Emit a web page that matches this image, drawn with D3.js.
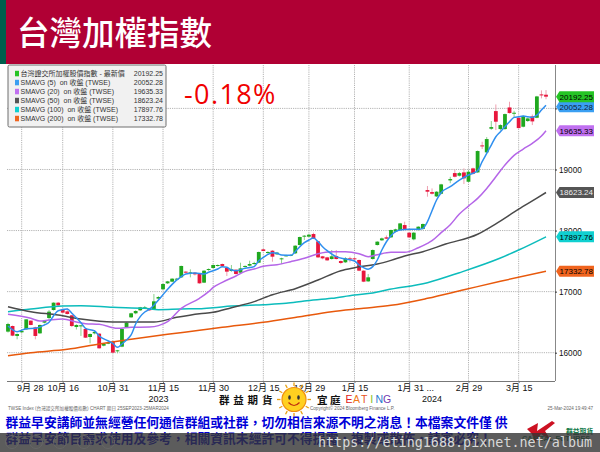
<!DOCTYPE html>
<html>
<head>
<meta charset="utf-8">
<script src="https://cdn.jsdelivr.net/npm/d3@7"></script>
<style>
  html, body { margin: 0; padding: 0; background: #fff; }
  svg { display: block; }
  text { font-family: "Liberation Sans", "Noto Sans CJK TC", sans-serif; }
</style>
</head>
<body>
<div id="chart"></div>
<script>
// open, high, low, close per trading day, null = lunar new year gap
const ohlc = [
  [16345,16490,16330,16470],[16437,16445,16270,16279],[16274,16315,16219,16306],[16334,16365,16325,16355],
  [16383,16550,16375,16546],[16525,16530,16450,16454],[16415,16425,16219,16274],[16317,16460,16310,16454],
  [16492,16535,16480,16525],[16568,16700,16540,16672],[16699,16825,16690,16819],[16819,16830,16760,16776],
  [16710,16720,16645,16656],[16677,16726,16625,16634],[16612,16620,16420,16437],[16421,16465,16380,16454],
  [16432,16455,16274,16448],[16388,16395,16240,16246],[16257,16315,16153,16306],[16317,16372,16300,16339],
  [16312,16320,16065,16072],[16115,16150,16105,16143],[16153,16175,16140,16164],[16181,16190,15995,16001],
  [16028,16045,15990,16039],[16099,16395,16090,16388],[16415,16500,16405,16492],[16579,16655,16570,16645],
  [16645,16695,16630,16683],[16694,16750,16685,16743],[16726,16765,16715,16743],[16726,16735,16685,16694],
  [16710,16961,16700,16841],[16885,16925,16875,16912],[17038,17130,17030,17125],[17136,17175,17125,17168],
  [17163,17220,17155,17212],[17201,17225,17190,17212],[17234,17425,17225,17420],[17327,17335,17300,17310],
  [17310,17365,17234,17316],[17310,17320,17265,17283],[17289,17295,17130,17136],[17147,17350,17140,17343],
  [17354,17380,17340,17370],[17387,17445,17375,17436],[17420,17445,17410,17436],[17452,17460,17400,17420],
  [17387,17395,17256,17327],[17338,17436,17325,17365],[17359,17365,17280,17289],[17310,17474,17300,17381],
  [17409,17430,17400,17420],[17425,17507,17415,17452],[17452,17490,17440,17469],[17474,17655,17465,17649],
  [17692,17700,17660,17665],[17632,17660,17620,17649],[17670,17680,17490,17572],[17611,17650,17600,17638],
  [17529,17555,17452,17545],[17583,17605,17575,17594],[17589,17610,17580,17600],[17627,17760,17615,17752],
  [17763,17900,17755,17894],[17900,17925,17845,17916],[17900,17945,17890,17932],[17943,17965,17860,17867],
  [17823,17830,17550,17561],[17578,17585,17530,17545],[17561,17570,17505,17512],[17534,17681,17525,17578],
  [17583,17681,17525,17534],[17501,17510,17450,17469],[17480,17565,17470,17545],[17545,17572,17480,17529],
  [17545,17560,17500,17529],[17518,17525,17335,17343],[17343,17350,17155,17163],[17168,17289,17160,17234],
  [17534,17690,17525,17681],[17763,17825,17755,17818],[17840,17885,17830,17872],[17889,17920,17860,17867],
  [17889,18015,17880,18009],[17981,18030,17970,18020],[18008,18125,18000,18117],[18090,18145,18020,18025],
  [17965,17975,17880,17888],[17856,17975,17840,17965],[18008,18070,18000,18063],[18025,18115,18015,18107],
  [18663,18729,18554,18636],[18630,18690,18590,18603],[18559,18645,18550,18636],[18603,18765,18595,18756],
  null,
  [18821,18880,18775,18843],[18941,18999,18870,18881],[18898,18960,18885,18941],[18952,19018,18761,18854],
  [18799,18990,18790,18963],[19018,19030,18920,18930],[18952,19310,18945,19302],[19394,19454,19334,19378],
  [19280,19530,19270,19498],[19667,19793,19650,19694],[19956,20065,19645,19782],[19662,19740,19640,19727],
  [19662,19915,19650,19907],[20016,20109,19915,19924],[19913,19960,19840,19929],[19847,19855,19670,19678],
  [19700,19885,19690,19875],[19793,19850,19780,19836],[19869,19900,19727,19787],[19847,20205,19840,20196],
  [20229,20295,20164,20224],[20224,20300,20150,20192]
];

// moving averages as [day, value]
const sma5 = [[0,16437],[2,16344],[4,16394],[6,16399],[8,16454],[9,16497],[10,16606],[11,16688],[13,16716],[14,16645],
  [16,16492],[17,16399],[19,16355],[20,16274],[22,16192],[23,16153],[24,16088],[25,16143],[26,16208],[27,16290],
  [28,16470],[29,16590],[30,16666],[31,16710],[32,16776],[33,16863],[34,16950],[35,17037],[36,17119],[38,17245],
  [39,17289],[41,17305],[43,17289],[44,17316],[46,17370],[47,17409],[48,17398],[49,17354],[50,17343],[52,17381],
  [54,17409],[55,17507],[56,17561],[58,17638],[59,17627],[60,17600],[62,17594],[63,17654],[64,17736],[65,17801],
  [66,17845],[67,17878],[68,17818],[69,17736],[70,17670],[72,17572],[74,17534],[76,17501],[77,17436],[78,17392],
  [79,17365],[80,17409],[81,17518],[82,17681],[83,17817],[84,17915],[85,17981],[86,18008],[88,18020],[90,18020],
  [91,18036],[92,18145],[93,18325],[94,18500],[95,18620],[97,18718],[99,18827],[101,18909],[103,18980],[104,19127],
  [105,19263],[106,19400],[107,19536],[108,19618],[109,19700],[110,19782],[111,19853],[112,19864],[113,19875],
  [114,19864],[115,19853],[116,19891],[117,19973],[118,20052]];
const sma20 = [[0,16628],[5,16563],[7,16519],[9,16535],[12,16552],[15,16503],[17,16475],[20,16465],[24,16399],[27,16415],
  [31,16421],[33,16443],[35,16508],[38,16726],[42,16890],[44,16999],[45,17070],[47,17152],[50,17256],[52,17332],
  [54,17370],[56,17414],[59,17441],[62,17490],[65,17545],[68,17621],[71,17654],[74,17654],[77,17621],[79,17572],
  [81,17605],[84,17643],[87,17643],[90,17719],[92,17790],[93,17834],[95,17965],[97,18096],[99,18270],[101,18401],
  [103,18527],[105,18690],[107,18881],[109,19072],[111,19231],[113,19334],[115,19427],[117,19547],[118,19635]];
const sma50 = [[0,16754],[5,16672],[11,16617],[16,16552],[23,16503],[32,16503],[37,16579],[42,16639],[45,16661],[49,16737],
  [54,16836],[58,16950],[63,17048],[68,17190],[73,17343],[76,17392],[81,17452],[84,17512],[87,17583],[91,17654],
  [96,17779],[103,17940],[107,18110],[112,18350],[116,18530],[118,18623]];
const sma100 = [[0,16672],[5,16716],[12,16765],[16,16770],[23,16743],[30,16726],[33,16705],[38,16716],[42,16721],[45,16737],
  [49,16765],[56,16786],[61,16808],[65,16846],[71,16890],[76,16945],[80,16977],[83,17026],[92,17146],[99,17310],
  [108,17550],[112,17681],[118,17898]];
const sma200 = [[0,15951],[5,16001],[13,16055],[20,16143],[27,16219],[35,16301],[42,16366],[47,16415],[56,16497],[64,16590],
  [71,16672],[78,16726],[84,16775],[92,16890],[100,17030],[108,17170],[118,17333]];

const maColors = ["#e8590c", "#0cbcbc", "#4a4a4a", "#b566e8", "#2f8fef"];

const yTicks = [16000, 17000, 18000, 19000, 20000];
const xTicks = [3, 12, 23, 34, 45, 56, 66, 76, 88, 101, 112];
const xLabels = ["9月 28", "10月 16", "10月 31", "11月 15", "11月 30", "12月 15", "12月 29", "1月 15", "1月 31 ...", "2月 29", "3月 15"];
const yearLabels = [["2023", 33], ["2024", 93]];

const legendNames = ["台灣證交所加權股價指數 - 最新價", "SMAVG (5)  on 收盤 (TWSE)", "SMAVG (20)  on 收盤 (TWSE)", "SMAVG (50)  on 收盤 (TWSE)", "SMAVG (100)  on 收盤 (TWSE)", "SMAVG (200)  on 收盤 (TWSE)"];
const lastValues = [20192.25, 20052.28, 19635.33, 18623.24, 17897.76, 17332.78];
const tagColors = ["#25c425", "#3a9ff2", "#c070f0", "#555555", "#10d0d0", "#f0641e"];
const tagText = ["#000", "#123", "#000", "#eee", "#000", "#000"];

const green = "#1fa81f", red = "#e8163c";

const svg = d3.select("#chart").append("svg")
  .attr("width", 600)
  .attr("height", 452);

const x = d3.scaleLinear().domain([0, 118]).range([8, 546]);
const y = d3.scaleLinear().domain([16000, 20000]).range([352.7, 108.4]);

const plotLeft = 7, plotRight = 555, plotTop = 65, plotBottom = 381;

// grid
const grid = svg.append("g")
  .attr("stroke", "#b4b4b4")
  .attr("stroke-dasharray", "1.2,1");
grid.selectAll(".h").data(yTicks).join("line")
  .attr("class", "h")
  .attr("x1", plotLeft).attr("x2", plotRight)
  .attr("y1", d => y(d)).attr("y2", d => y(d));
grid.selectAll(".v").data(xTicks).join("line")
  .attr("class", "v")
  .attr("x1", d => x(d)).attr("x2", d => x(d))
  .attr("y1", plotTop).attr("y2", plotBottom);

// candles
const days = ohlc.map((d, i) => ({ i, d })).filter(e => e.d);
svg.append("g").selectAll("line").data(days).join("line")
  .attr("x1", e => x(e.i)).attr("x2", e => x(e.i))
  .attr("y1", e => y(e.d[1])).attr("y2", e => y(e.d[2]))
  .attr("stroke", e => e.d[3] >= e.d[0] ? "#8ccf8c" : "#eea0b0")
  .attr("stroke-width", 1);
svg.append("g").selectAll("rect").data(days).join("rect")
  .attr("x", e => x(e.i) - 1.9)
  .attr("width", 3.8)
  .attr("y", e => y(Math.max(e.d[0], e.d[3])))
  .attr("height", e => Math.max(1, Math.abs(y(e.d[0]) - y(e.d[3]))))
  .attr("fill", e => e.d[3] >= e.d[0] ? green : red);

// moving averages
const maLine = d3.line()
  .x(d => x(d[0]))
  .y(d => y(d[1]))
  .curve(d3.curveMonotoneX);
svg.append("g").selectAll("path")
  .data([sma200, sma100, sma50, sma20, sma5])
  .join("path")
  .attr("fill", "none")
  .attr("stroke", (d, i) => maColors[i])
  .attr("stroke-width", 1.5)
  .attr("d", maLine);

// axes
const xAxis = svg.append("g")
  .attr("transform", `translate(0,${plotBottom})`)
  .call(d3.axisBottom(x).tickValues(xTicks).tickSize(2).tickPadding(2).tickFormat((d, i) => xLabels[i]));
xAxis.select(".domain").attr("d", `M${plotLeft},0.5H${plotRight}`).attr("stroke", "#777").attr("stroke-width", 1.2);
xAxis.selectAll("line").attr("stroke", "#777");
xAxis.selectAll("text")
  .attr("fill", "#111")
  .attr("font-size", 9)
  .attr("dx", d => d === 3 ? 8 : d === 88 ? 6 : 0);

svg.append("g").selectAll("text").data(yearLabels).join("text")
  .attr("x", d => x(d[1]))
  .attr("y", 402)
  .attr("text-anchor", "middle")
  .attr("font-size", 9)
  .attr("fill", "#111")
  .text(d => d[0]);

const yAxis = svg.append("g")
  .attr("transform", `translate(${plotRight},0)`)
  .call(d3.axisRight(y).tickValues(yTicks).tickSize(2).tickPadding(2).tickFormat(d3.format("d")));
yAxis.select(".domain").attr("d", `M0.5,${plotTop}V${plotBottom}`).attr("stroke", "#888").attr("stroke-width", 1);
yAxis.selectAll("line").attr("stroke", "#333");
yAxis.selectAll("text").attr("font-size", 8.2).attr("fill", "#111");
yAxis.selectAll(".tick").filter(d => d === 20000).select("text").remove();

// last value tags, the first one stays on top
const tags = svg.append("g").selectAll("g")
  .data(lastValues.map((v, i) => ({ v, i })).reverse())
  .join("g")
  .attr("transform", e => `translate(556,${y(e.v) + (e.i === 1 ? 1.5 : 0)})`);
tags.append("path")
  .attr("d", "M0,0L3.5,-5.5H38V5.5H3.5Z")
  .attr("fill", e => tagColors[e.i]);
tags.append("text")
  .attr("x", 3.6).attr("y", 3)
  .attr("font-size", 8)
  .attr("fill", e => tagText[e.i])
  .text(e => e.v.toFixed(2));

// legend
const legend = svg.append("g");
legend.append("rect")
  .attr("x", 8).attr("y", 65).attr("width", 158).attr("height", 62).attr("rx", 1.5)
  .attr("fill", "#f1f1f1").attr("stroke", "#6e6e6e").attr("stroke-width", 1);
const rows = legend.selectAll("g").data(legendNames).join("g")
  .attr("transform", (d, i) => `translate(0,${73.8 + i * 9})`);
rows.append("rect")
  .attr("x", 15).attr("y", -3).attr("width", 4).attr("height", 5.5)
  .attr("fill", (d, i) => tagColors[i]);
rows.append("text")
  .attr("x", 20.5).attr("y", 2.6)
  .attr("font-size", 7)
  .attr("fill", "#333")
  .style("white-space", "pre")
  .text(d => d);
rows.append("text")
  .attr("x", 163).attr("y", 2.6)
  .attr("text-anchor", "end")
  .attr("font-size", 7)
  .attr("fill", "#333")
  .text((d, i) => lastValues[i].toFixed(2));

svg.append("text")
  .attr("x", 184).attr("y", 104)
  .style("font-family", "'Open Sans', sans-serif")
  .attr("font-size", 27)
  .attr("letter-spacing", 1.4)
  .attr("fill", "#f00000")
  .text("-0.18%");

// header
svg.append("rect").attr("x", 0).attr("y", 0).attr("width", 600).attr("height", 64).attr("fill", "#b00034");
svg.append("rect").attr("x", 0).attr("y", 0).attr("width", 6).attr("height", 64).attr("fill", "#005e4d");
svg.append("text")
  .attr("x", 17).attr("y", 45)
  .attr("font-size", 32.5)
  .attr("font-weight", 500)
  .attr("fill", "#fff")
  .style("font-family", "'Noto Sans CJK TC', sans-serif")
  .text("台灣加權指數");

// footer small print
const fine = [
  ["TWSE Index (台灣證交所加權股價指數) CHART 期日 25SEP2023-25MAR2024", 8, "start"],
  ["Copyright© 2024 Bloomberg Finance L.P.", 310, "start"],
  ["25-Mar-2024 19:49:47", 593, "end"]
];
svg.append("g").selectAll("text").data(fine).join("text")
  .attr("x", d => d[1]).attr("y", 410)
  .attr("text-anchor", d => d[2])
  .attr("font-size", 4.6)
  .attr("fill", "#666")
  .text(d => d[0]);

// brand row
const brand = svg.append("g");
brand.append("text").attr("x", 219).attr("y", 403.5)
  .attr("font-size", 10.5).attr("font-weight", 700).attr("fill", "#111")
  .attr("letter-spacing", 3.8)
  .style("font-family", "'Noto Sans CJK TC', sans-serif")
  .text("群益期貨");
brand.append("text").attr("x", 317).attr("y", 403.5)
  .attr("font-size", 10.5).attr("font-weight", 700).attr("fill", "#111")
  .attr("letter-spacing", 2.5)
  .style("font-family", "'Noto Sans CJK TC', sans-serif")
  .text("宜庭");
const eatingColors = ["#e02020", "#f07818", "#e85020", "#80c020", "#2878d0", "#7038b0"];
brand.selectAll(".eat").data("EATING".split("")).join("text")
  .attr("class", "eat")
  .attr("x", (d, i) => 349 + i * 7.6)
  .attr("y", 403)
  .attr("text-anchor", "middle")
  .attr("font-size", 10.5)
  .attr("fill", (d, i) => eatingColors[i])
  .text(d => d);

// sun mascot
const sun = svg.append("g").attr("transform", "translate(294,399.5)");
sun.selectAll("line").data(d3.range(12)).join("line")
  .attr("x1", d => 13.5 * Math.cos(d * Math.PI / 6)).attr("y1", d => 13.5 * Math.sin(d * Math.PI / 6))
  .attr("x2", d => 17 * Math.cos(d * Math.PI / 6)).attr("y2", d => 17 * Math.sin(d * Math.PI / 6))
  .attr("stroke", "#e8a010").attr("stroke-width", 1.3);
sun.append("circle").attr("r", 12).attr("fill", "#ffd020").attr("stroke", "#f09010").attr("stroke-width", 1.2);
sun.selectAll("ellipse").data([-4.5, 4.5]).join("ellipse")
  .attr("cx", d => d).attr("cy", -2).attr("rx", 1.3).attr("ry", 2.2).attr("fill", "#333");
sun.append("path").attr("d", "M-5.5,3Q0,9 5.5,3").attr("fill", "none").attr("stroke", "#c03010").attr("stroke-width", 1.2);

// disclaimer
const notes = ["群益早安講師並無經營任何通信群組或社群，切勿相信來源不明之消息！本檔案文件僅 供", "群益早安節目需求使用及參考，相關資訊未經許可不得提露，複製或散佈，請審必究！"];
svg.append("g").selectAll("text").data(notes).join("text")
  .attr("x", 5.5).attr("y", (d, i) => 427 + i * 16)
  .attr("font-size", 12.8)
  .attr("font-weight", 700)
  .attr("fill", "#0000d8")
  .style("font-family", "'Noto Sans CJK TC', sans-serif")
  .text(d => d);

// company logo
const logo = svg.append("g");
logo.append("path").attr("d", "M527,429L538,423L537,431L552,421L555,423L545,431L552,442L541,434L535,443L532,434Z").attr("fill", "#cc1122");
logo.append("text").attr("x", 566).attr("y", 433.5).attr("font-size", 6.8).attr("font-weight", 700).attr("fill", "#117a4a")
  .style("font-family", "'Noto Sans CJK TC', sans-serif").text("群益期貨");
logo.append("text").attr("x", 522).attr("y", 441).attr("font-size", 7.4).attr("font-weight", 700).attr("fill", "#117a4a").text("CAPITAL FUTURES");

// watermark strip
svg.append("rect").attr("x", 0).attr("y", 433).attr("width", 600).attr("height", 19).attr("fill", "#333").attr("opacity", 0.8);
svg.append("g").selectAll("circle").data(d3.range(5)).join("circle")
  .attr("cx", d => 12 + d * 24).attr("cy", 442).attr("r", 6.5)
  .attr("fill", "none").attr("stroke", "#666").attr("stroke-width", 1);
svg.append("text")
  .attr("x", 318).attr("y", 447)
  .attr("font-size", 13.4)
  .attr("fill", "#d8d8d8")
  .style("font-family", "'DejaVu Sans Mono', monospace")
  .text("https://eting1688.pixnet.net/album");
</script>
</body>
</html>
